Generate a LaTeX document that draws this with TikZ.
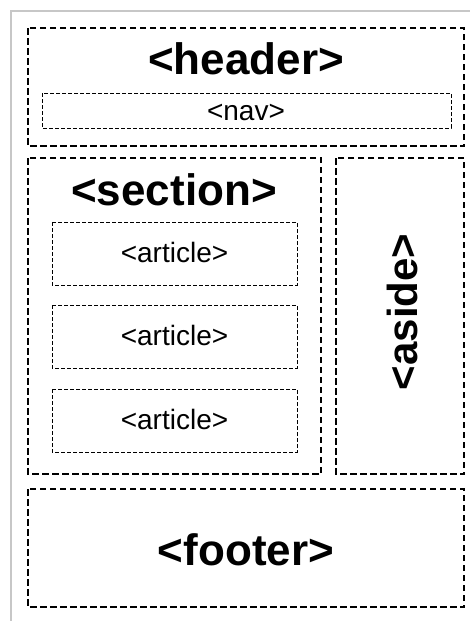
\documentclass[tikz,border=0pt]{standalone}
\usepackage{fontspec}
\setmainfont{Liberation Sans}
\tikzset{
  frame/.style={draw=black!22, line width=1.5pt},
  outer/.style={line width=1.3pt, dash pattern=on 6.5pt off 3.5pt},
  inner/.style={line width=1pt, dash pattern=on 4pt off 2pt},
  bigtag/.style={anchor=base, inner sep=0pt, font=\fontsize{44}{48}\selectfont\bfseries},
  smalltag/.style={anchor=base, inner sep=0pt, font=\fontsize{28}{32}\selectfont}
}
\begin{document}
\begin{tikzpicture}[x=1pt, y=-1pt]
    \useasboundingbox (0, 0) rectangle (470, 621) ;
    \draw[frame] (470, 11) -- (11, 11) -- (11, 621) ;
    % header with nav
    \draw[outer] (28, 28) rectangle (464, 146) ;
    \draw[inner] (42, 93) rectangle (451, 128) ;
    \node[bigtag] (header) at (246, 74) {<header>} ;
    \node[smalltag] (nav) at (246, 120) {<nav>} ;
    % section with articles
    \draw[outer] (28, 158) rectangle (321, 474) ;
    \node[bigtag] (section) at (174, 205) {<section>} ;
    \foreach \i/\y in {1/222, 2/305, 3/389} {
      \draw[inner] (52, \y) rectangle (297, \y + 63) ;
      \node[smalltag] (article\i) at (174.5, \y + 40.5) {<article>} ;
    }
    % aside
    \draw[outer] (336, 158) rectangle (464, 474) ;
    \node[bigtag, rotate=90, font=\fontsize{42}{46}\selectfont\bfseries] (aside) at (417, 312) {<aside>} ;
    % footer
    \draw[outer] (28, 489) rectangle (464, 607) ;
    \node[bigtag] (footer) at (246, 565) {<footer>} ;
  \end{tikzpicture}
\end{document}
